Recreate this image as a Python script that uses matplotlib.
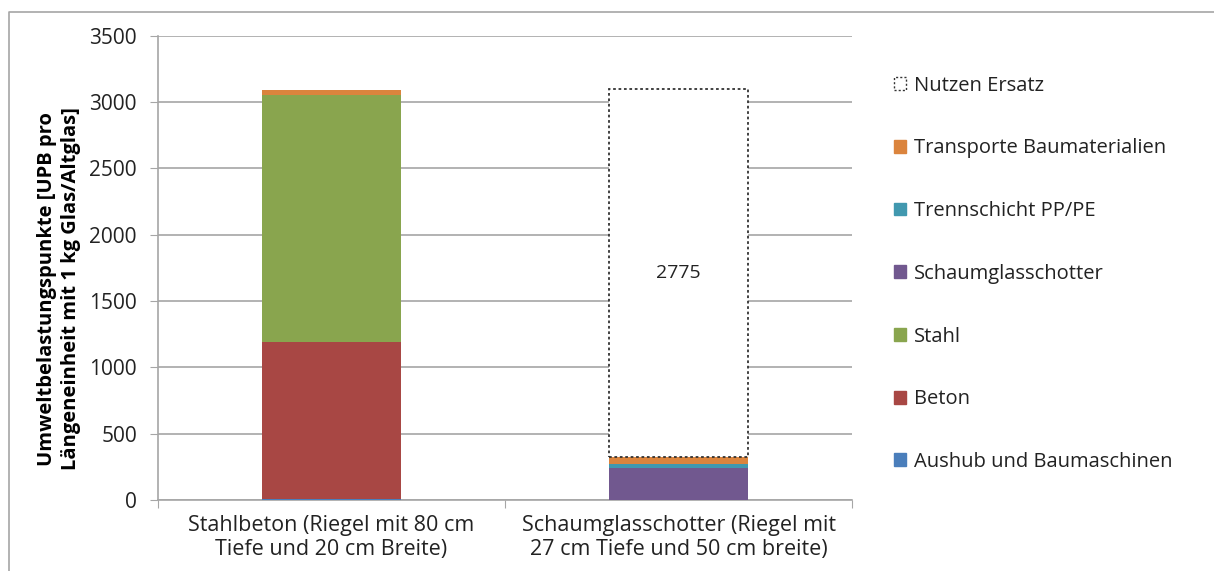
import numpy as np
import matplotlib.pyplot as plt
from matplotlib.lines import Line2D
from matplotlib.patches import Patch

plt.rcParams['font.family'] = ['Open Sans', 'DejaVu Sans']

categories = ['Stahlbeton (Riegel mit 80 cm\nTiefe und 20 cm Breite)',
              'Schaumglasschotter (Riegel mit\n27 cm Tiefe und 50 cm breite)']
aushub = [5, 3]
beton = [1190, 0]
stahl = [1860, 0]
schaumglas = [0, 238]
trennschicht = [0, 28]
transporte = [40, 53]
nutzen_ersatz = [0, 2775]

series = [
    ('Aushub und Baumaschinen', aushub, '#4A7EBB'),
    ('Beton', beton, '#A84744'),
    ('Stahl', stahl, '#89A54E'),
    ('Schaumglasschotter', schaumglas, '#71588F'),
    ('Trennschicht PP/PE', trennschicht, '#4198AF'),
    ('Transporte Baumaterialien', transporte, '#DB843D'),
]

fig = plt.figure(figsize=(12.14, 5.71), dpi=100)
ax = fig.add_axes([0.130, 0.1243, 0.572, 0.813])

x = np.arange(len(categories))
w = 0.4
bottom = np.zeros(len(categories))
handles = []
for name, vals, col in series:
    vals = np.array(vals, dtype=float)
    ax.bar(x, vals, w, bottom=bottom, color=col, edgecolor='none', zorder=3)
    bottom += vals
    handles.append(Patch(facecolor=col, edgecolor=col, label=name))

# Nutzen Ersatz: dotted outline box on top of the second bar
for i, v in enumerate(nutzen_ersatz):
    if v > 0:
        ax.bar(x[i], v, w, bottom=bottom[i], facecolor='white', edgecolor='#333333',
               linestyle=(0, (1.5, 1.5)), linewidth=1.3, zorder=3)
        ax.text(x[i], bottom[i] + v / 2, str(v), ha='center', va='center',
                fontsize=14, color='#222222', zorder=4)
handles.append(Patch(facecolor='white', edgecolor='#333333', linestyle=(0, (1.5, 1.5)),
                     label='Nutzen Ersatz'))

ax.set_xlim(-0.5, 1.5)
ax.set_ylim(0, 3500)
ax.set_yticks(np.arange(0, 3501, 500))
ax.yaxis.grid(True, color='#A6A6A6', linewidth=1.2, zorder=0)
ax.set_axisbelow(True)
for s in ['top', 'right']:
    ax.spines[s].set_visible(False)
for s in ['left', 'bottom']:
    ax.spines[s].set_color('#A6A6A6')
    ax.spines[s].set_linewidth(1.2)
ax.tick_params(axis='y', direction='out', length=6, color='#A6A6A6', labelsize=15,
               pad=9, labelcolor='#222222')
ax.set_xticks([-0.5, 0.5, 1.5])
ax.set_xticklabels([])
ax.tick_params(axis='x', direction='out', length=6, color='#A6A6A6')
ax.set_xticks(x, minor=True)
ax.set_xticklabels(categories, minor=True, fontsize=15.5, linespacing=1.15, color='#222222')
ax.tick_params(axis='x', which='minor', length=0, pad=11)

ax.set_ylabel('Umweltbelastungspunkte [UPB pro\nLängeneinheit mit 1 kg Glas/Altglas]',
              fontsize=14.5, fontweight='bold', labelpad=6, linespacing=1.25, y=0.455)

fig.legend(handles=handles[::-1], loc='upper left', bbox_to_anchor=(0.7216, 0.899),
           frameon=False, fontsize=14.5, handlelength=0.6, handleheight=0.6,
           handletextpad=0.4, labelspacing=2.12, labelcolor='#222222')

# chart frame: only top and left edges are visible in the original
fig.add_artist(Line2D([0.0074, 0.0074, 1.0], [0.0, 0.979, 0.979], transform=fig.transFigure,
                      color='#A6A6A6', linewidth=1.2))

fig.savefig('out.png', dpi=100)
